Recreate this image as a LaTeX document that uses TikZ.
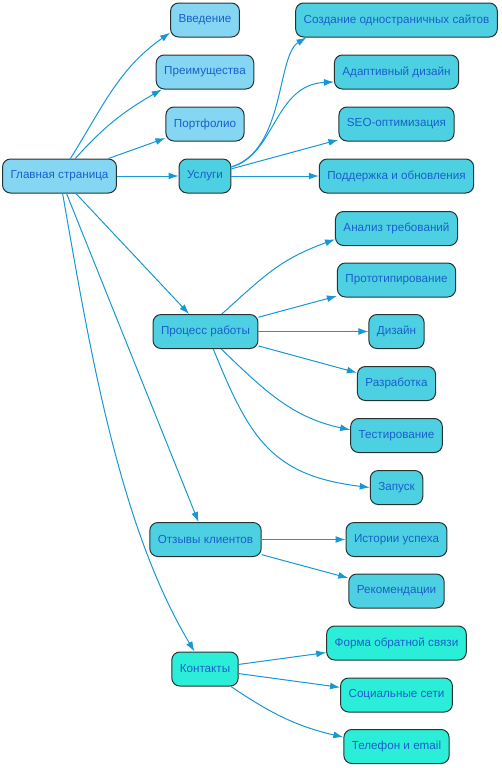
\documentclass[tikz,border=0pt]{standalone}
\usepackage{fontspec}
\setmainfont{Liberation Sans}
\usepackage{tikz}
\usetikzlibrary{arrows.meta}
\definecolor{pagefill}{HTML}{84D6F3}
\definecolor{partfill}{HTML}{4DD0E1}
\definecolor{contfill}{HTML}{2BEED8}
\definecolor{linkblue}{HTML}{1598D4}
\definecolor{textblue}{HTML}{1A5FCC}
\definecolor{rimgray}{HTML}{263333}

\begin{document}
\begin{tikzpicture}[x=0.75pt,y=-0.75pt,
    box/.style={draw=rimgray,line width=0.75pt,rounded corners=6pt,
      minimum height=25.5pt,inner xsep=6pt,text=textblue,
      font=\fontsize{8.75}{10}\selectfont},
    page/.style={box,fill=pagefill},
    part/.style={box,fill=partfill},
    cont/.style={box,fill=contfill},
    link/.style={draw=linkblue,line width=0.75pt,-{Latex[length=7.5pt,width=5.2pt]}}]
    \useasboundingbox (0,0) rectangle (501,768) ;
    \node (main) at (59.5,176) [page] {Главная страница} ;
    \node (intro) at (205,20) [page] {Введение} ;
    \node (adv) at (205,72) [page] {Преимущества} ;
    \node (port) at (205,124) [page] {Портфолио} ;
    \node (serv) at (205,176) [part] {Услуги} ;
    \node (proc) at (205.5,331.5) [part] {Процесс работы} ;
    \node (rev) at (205.5,539.5) [part] {Отзывы клиентов} ;
    \node (contact) at (205,669) [cont] {Контакты} ;
    \node (web) at (396.5,20) [part] {Создание одностраничных сайтов} ;
    \node (resp) at (396.5,72) [part] {Адаптивный дизайн} ;
    \node (seo) at (396.5,124) [part] {SEO-оптимизация} ;
    \node (supp) at (396.5,176) [part] {Поддержка и обновления} ;
    \node (req) at (396.5,228.5) [part] {Анализ требований} ;
    \node (proto) at (396.5,280) [part] {Прототипирование} ;
    \node (design) at (396.5,331.5) [part] {Дизайн} ;
    \node (dev) at (396.5,383.5) [part] {Разработка} ;
    \node (test) at (396.5,435.5) [part] {Тестирование} ;
    \node (launch) at (396.5,487.5) [part] {Запуск} ;
    \node (story) at (396.5,539.5) [part] {Истории успеха} ;
    \node (recom) at (396.5,591) [part] {Рекомендации} ;
    \node (form) at (396.5,643) [cont] {Форма обратной связи} ;
    \node (social) at (396.5,695) [cont] {Социальные сети} ;
    \node (phone) at (396.5,746.5) [cont] {Телефон и email} ;
    \draw[link] (main.58) to[out=58,in=215] (intro.200) ;
    \draw[link] (main.48) to[out=48,in=210] (adv.202) ;
    \draw[link] (main) -- (port) ;
    \draw[link] (main) -- (serv) ;
    \draw[link] (main) -- (proc) ;
    \draw[link] (main) -- (rev) ;
    \draw[link] (main.280) to[out=-80,in=121,looseness=0.8] (contact.121) ;
    \draw[link] (serv.19) .. controls +(54,-17) and +(-30,18) .. (web.191) ;
    \draw[link] (serv.19) .. controls +(44,-12) and +(-60,3) .. (resp.189) ;
    \draw[link] (serv) -- (seo) ;
    \draw[link] (serv) -- (supp) ;
    \draw[link] (proc.47) to[out=42,in=200,looseness=1.1] (req.190) ;
    \draw[link] (proc) -- (proto) ;
    \draw[link] (proc) -- (design) ;
    \draw[link] (proc) -- (dev) ;
    \draw[link] (proc.312) to[out=-44,in=168] (test.173) ;
    \draw[link] (proc.294) to[out=-68,in=173,looseness=1.2] (launch.west) ;
    \draw[link] (rev) -- (story) ;
    \draw[link] (rev) -- (recom) ;
    \draw[link] (contact) -- (form) ;
    \draw[link] (contact) -- (social) ;
    \draw[link] (contact.326) to[out=-34,in=167] (phone.170) ;
  \end{tikzpicture}
\end{document}
